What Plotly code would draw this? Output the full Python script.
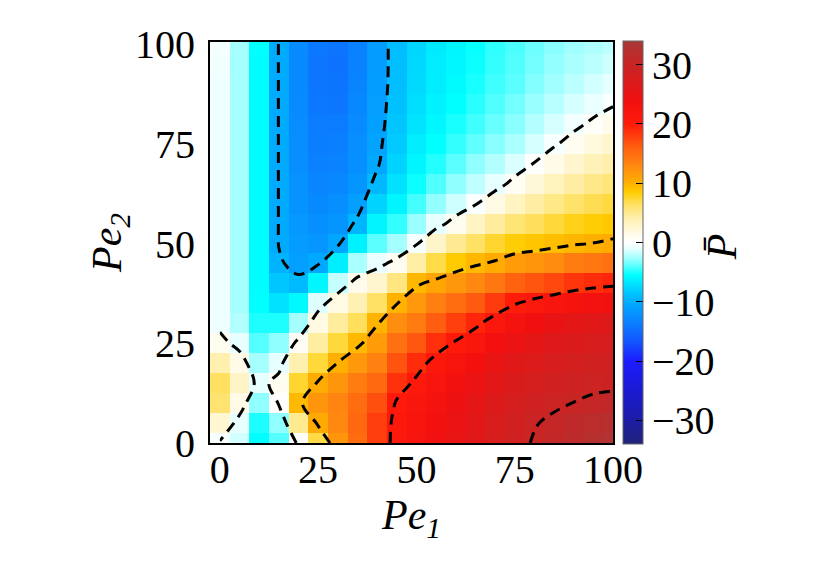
import numpy as np
import plotly.graph_objects as go

# grid of the map (Pe1 along x, Pe2 along y)
pe1 = [0, 5, 10, 15, 20, 25, 30, 35, 40, 45, 50, 55, 60, 65, 70, 75, 80, 85, 90, 95, 100]
pe2 = [0, 5, 10, 15, 20, 25, 30, 35, 40, 45, 50, 55, 60, 65, 70, 75, 80, 85, 90, 95, 100]

# P-bar, one list per Pe1 column (values from Pe2 = 0 up to 100)
p_bar_cols = [
    [-0.3, 2.5, 6, 6.5, 4, 1, -0.8, -0.8, -0.8, -0.8, -0.8, -0.8, -0.8, -0.8, -0.8, -0.8, -0.8, -0.8, -0.7, -0.6, -0.5],
    [-1.5, -1, 1.5, 3, 1.5, -1, -2.2, -2.5, -2.5, -2.5, -2.5, -2.5, -2.5, -2.5, -2.5, -2.5, -2.5, -2.5, -2.5, -2.5, -2.5],
    [-5.5, -5, -3, -1, -2.5, -4, -5, -5.5, -5.6, -5.6, -5.6, -5.6, -5.6, -5.6, -5.6, -5.6, -5.6, -5.6, -5.6, -5.6, -5.5],
    [-4, -3, 0.2, 1, -1, -3, -5, -7, -8.5, -9.6, -10.1, -10.1, -10.1, -10.1, -10.1, -10.1, -10.1, -10.1, -10.1, -10.1, -10.1],
    [0.5, 5, 9.5, 7.5, 4, 0.8, -2.5, -5.8, -9.2, -11, -11.3, -11.6, -11.9, -12.1, -12.3, -12.4, -12.5, -12.6, -12.7, -12.7, -12.6],
    [7, 10.5, 12, 10.3, 7.3, 4.5, 1.8, -1.2, -5.9, -10.3, -11.7, -12.2, -12.7, -13.1, -13.4, -13.7, -13.9, -14.1, -14.2, -14.2, -14],
    [12, 13, 13.2, 12, 10.1, 7.3, 4.6, 1.8, -1.8, -6.3, -10.5, -11.8, -12.4, -12.9, -13.3, -13.6, -13.9, -14.2, -14.4, -14.5, -14.4],
    [15, 15.5, 15, 13.8, 11.8, 9.5, 6.6, 3.8, 1.1, -2.4, -6.2, -9.5, -11, -11.8, -12.2, -12.4, -12.6, -12.9, -13.2, -13.4, -13.4],
    [18, 18, 17, 15.3, 13.5, 11.5, 9.8, 6.3, 2.6, -0.9, -3.9, -6, -7.8, -9.3, -10.3, -10.6, -10.9, -11.1, -11.2, -11.3, -11.3],
    [21, 20.8, 20.3, 18.7, 16.7, 14.8, 12.6, 9.9, 5.5, 0.9, -2.5, -4.6, -6, -7, -7.8, -8.3, -8.6, -8.8, -9, -9, -9],
    [22.5, 22.3, 21.5, 20.5, 19, 16.5, 14, 11.8, 9.6, 4.3, -0.3, -2.8, -4.3, -5.3, -6, -6.5, -6.9, -7.2, -7.4, -7.5, -7.6],
    [23.8, 23.5, 23, 22.2, 20.9, 18.8, 16.2, 13.6, 10.8, 7, 2.8, -1, -2.9, -4.1, -4.9, -5.5, -5.9, -6.2, -6.4, -6.5, -6.6],
    [25, 24.8, 24.3, 23.5, 22.3, 20.3, 17.8, 15, 11.9, 8.6, 4.9, 1, -1.6, -3, -3.9, -4.6, -5.1, -5.5, -5.7, -5.9, -6],
    [26.3, 26.1, 25.6, 24.8, 23.6, 21.8, 19.4, 16.3, 13, 9.6, 6.3, 3.1, -0.2, -1.9, -3, -3.8, -4.4, -4.8, -5.1, -5.3, -5.4],
    [27.6, 27.4, 26.9, 26.1, 25, 23.5, 21.3, 18.2, 14.3, 10.4, 7.5, 4.6, 1.7, -1, -2.2, -3.1, -3.7, -4.1, -4.4, -4.6, -4.7],
    [28.9, 28.6, 28, 27.2, 26.2, 24.8, 23, 19.8, 15.8, 11.5, 8.4, 5.8, 3.2, 0.7, -1.3, -2.4, -3.1, -3.5, -3.9, -4.1, -4.2],
    [30.3, 29.8, 28.9, 28, 27, 25.7, 24, 21, 16.6, 12, 8.8, 6.6, 4.4, 2.2, 0.1, -1.4, -2.2, -2.8, -3.2, -3.5, -3.6],
    [31, 30.6, 29.5, 28.6, 27.7, 26.5, 24.9, 22, 17.4, 12.7, 9.2, 7.3, 5.3, 3.4, 1.5, -0.3, -1.4, -2.1, -2.6, -2.9, -3.1],
    [31.7, 31.2, 30.05, 29.1, 28.2, 27.1, 25.6, 22.8, 18.4, 13.8, 9.7, 8, 6.2, 4.4, 2.6, 0.9, -0.6, -1.4, -2, -2.4, -2.6],
    [32.4, 31.8, 30.5, 29.4, 28.7, 27.6, 26.2, 23.3, 19, 14.3, 10.05, 8.4, 6.8, 5.2, 3.6, 2, 0.4, -0.9, -1.5, -2, -2.3],
    [33, 32.3, 31, 29.3, 29, 27.9, 26.6, 23.7, 19.4, 14.8, 10.4, 8.7, 7.2, 5.7, 4.2, 2.7, 1.2, -0.2, -1, -1.6, -2],
]

cbar_ticks = [-30, -20, -10, 0, 10, 20, 30]
axis_ticks = [0, 25, 50, 75, 100]

z = np.array(p_bar_cols).T  # rows = Pe2, columns = Pe1

# blue - cyan - white - yellow - red colour map
zmin, zmax = -34, 34
stops = [
    (-34, "#22227a"), (-30, "#1c1ca6"), (-25, "#1a1ad2"), (-20, "#1c1cff"),
    (-17, "#1450ff"), (-13.5, "#0a80ff"), (-10, "#00acff"), (-7.5, "#00d8ff"),
    (-5.5, "#00ffff"), (-3, "#90ffff"), (-1, "#e8ffff"), (0, "#ffffff"),
    (1.5, "#fffbe8"), (4, "#fff0b0"), (6.5, "#ffe060"), (8.5, "#ffcc00"),
    (10, "#ffb000"), (13, "#ff8810"), (16, "#ff6010"), (20, "#ff1a0a"),
    (24, "#f01010"), (28, "#d51e1e"), (31, "#c22828"), (34, "#a83838"),
]
colorscale = [[(v - zmin) / (zmax - zmin), c] for v, c in stops]

font = "Liberation Serif, Times New Roman, serif"

fig = go.Figure()
fig.add_trace(go.Heatmap(
    x=pe1, y=pe2, z=z,
    colorscale=colorscale, zmin=zmin, zmax=zmax,
    colorbar=dict(
        x=1.025, xanchor="left", xpad=0, y=0.5, yanchor="middle",
        len=1.005, ypad=0, thickness=20,
        outlinewidth=1, outlinecolor="#666666",
        tickvals=cbar_ticks, ticks="inside", ticklen=7, tickcolor="black",
        tickfont=dict(family=font, size=40, color="black"),
    ),
))
fig.add_trace(go.Contour(
    x=pe1, y=pe2, z=z,
    contours=dict(coloring="none", start=-30, end=30, size=10),
    line=dict(color="black", width=3, dash="11px,7px"),
    showscale=False, hoverinfo="skip",
))

axis_common = dict(
    showline=True, linecolor="black", linewidth=2, mirror=True,
    showgrid=False, zeroline=False, ticks="",
    tickfont=dict(family=font, size=40, color="black"),
)
fig.update_xaxes(range=[-2.5, 100], tickvals=axis_ticks, ticklabelstandoff=-10,
                 title=dict(text="<i>Pe<sub>1</sub></i>", standoff=8,
                            font=dict(family=font, size=42, color="black")),
                 **axis_common)
fig.update_yaxes(range=[0, 100.5], tickvals=axis_ticks, ticklabelstandoff=5,
                 title=dict(text="<i>Pe<sub>2</sub></i>", standoff=0,
                            font=dict(family=font, size=42, color="black")),
                 **axis_common)

# colour bar label, rotated, set right of the tick labels
fig.add_annotation(
    text="<i>P̄</i>", xref="paper", yref="paper", x=1.27, y=0.49,
    xanchor="center", yanchor="middle",
    showarrow=False, textangle=-90,
    font=dict(family=font, size=42, color="black"),
)

fig.update_layout(
    width=830, height=581,
    margin=dict(l=202, r=225, t=34, b=146),
    paper_bgcolor="white", plot_bgcolor="white",
    showlegend=False,
)
fig.write_html("out.html")
